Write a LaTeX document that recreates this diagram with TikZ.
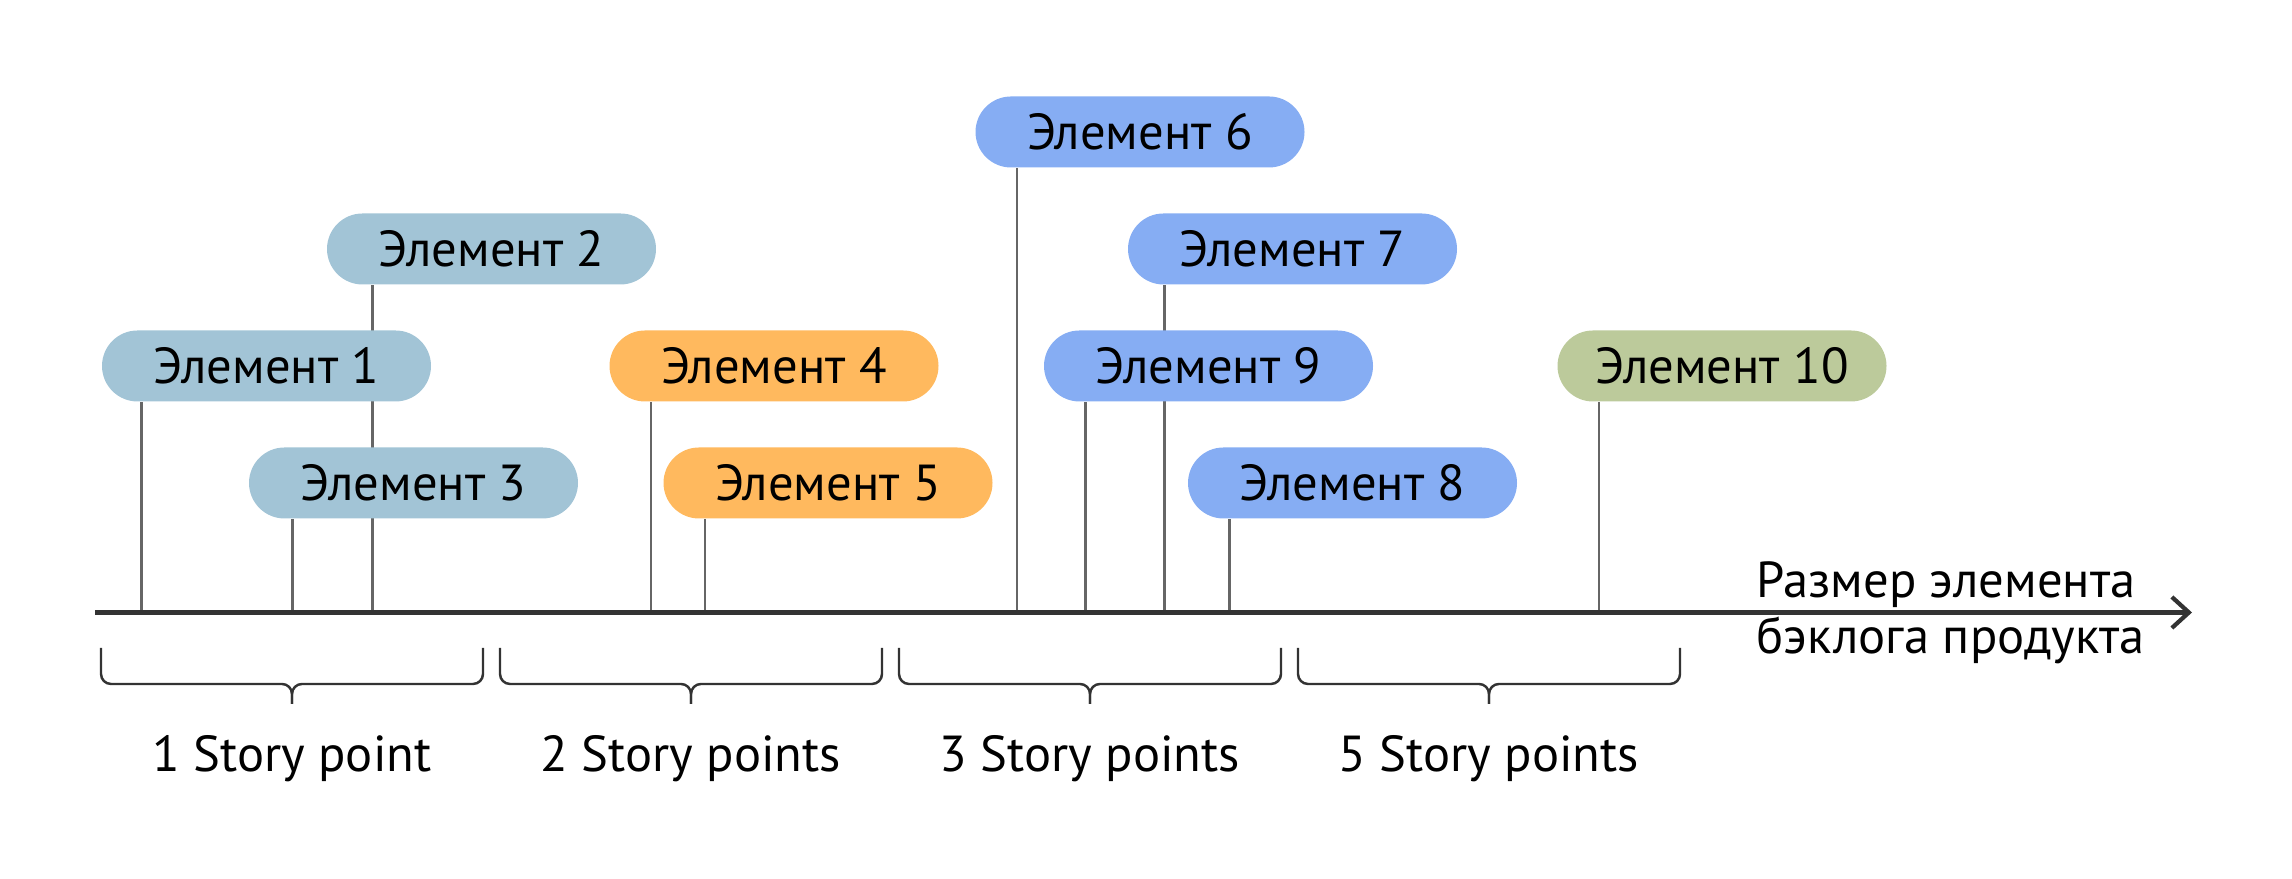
\documentclass[tikz,border=0pt]{standalone}
\usepackage{fontspec}
\setmainfont{PT Sans}
\usetikzlibrary{
  positioning, arrows.meta, backgrounds
}

\definecolor{elgray}{HTML}{A2C4D6}
\definecolor{elorange}{HTML}{FFB95E}
\definecolor{elblue}{HTML}{86ADF3}
\definecolor{elgreen}{HTML}{BCCA9B}
\definecolor{axisgray}{HTML}{333333}
\definecolor{stemgray}{HTML}{666666}

\begin{document}
\begin{tikzpicture}[x=1mm,y=1mm,node distance=11.7mm,on grid,
    lbl/.style={font=\fontsize{14.4}{15.9}\selectfont},
    pill/.style={lbl,rounded corners=3.55mm,minimum width=32.9mm,minimum height=7.1mm,inner sep=0pt},
    stem/.style={stemgray,line width=0.7pt},
    brk/.style={axisgray,line width=0.7pt,rounded corners=1mm}]
    \useasboundingbox (0,0) rectangle (229.2,87.9);
    \node[pill,fill=elgray] (e1) at (26.65,51.3) {Элемент 1};
    \node[pill,fill=elgray] (e2) [above=of e1,xshift=22.5mm] {Элемент 2};
    \node[pill,fill=elgray] (e3) [below=of e1,xshift=14.7mm] {Элемент 3};
    \node[pill,fill=elorange] (e4) [right=50.75mm of e1] {Элемент 4};
    \node[pill,fill=elorange] (e5) [below=of e4,xshift=5.4mm] {Элемент 5};
    \node[pill,fill=elblue] (e9) [right=43.45mm of e4] {Элемент 9};
    \node[pill,fill=elblue] (e7) [above=of e9,xshift=8.4mm] {Элемент 7};
    \node[pill,fill=elblue] (e6) [above=of e7,xshift=-15.25mm] {Элемент 6};
    \node[pill,fill=elblue] (e8) [below=of e9,xshift=14.4mm] {Элемент 8};
    \node[pill,fill=elgreen] (e10) [right=51.35mm of e9] {Элемент 10};
    \coordinate (ax0) at (9.5,26.65);
    \coordinate (ax1) at (219.2,26.65);
    \draw[axisgray,line width=1.2pt,-{Straight Barb[length=1.7mm,width=3.1mm]}] (ax0) -- (ax1);
    \node[lbl,anchor=west,align=left,inner sep=0pt] (axlabel) at (175.6,26.6) {Размер элемента\\бэклога продукта};
    \begin{scope}[on background layer]
      \foreach \e/\dx in {e1/4.0,e2/4.6,e3/4.4,e4/4.2,e5/4.2,e6/4.2,e7/3.7,e8/4.2,e9/4.2,e10/4.2}
        \draw[stem] ([xshift=\dx mm]\e.south west) -- ([xshift=\dx mm]\e.south west |- ax0);
    \end{scope}
    \foreach \i/\txt in {0/1 Story point,1/2 Story points,2/3 Story points,3/5 Story points}{
      \pgfmathsetmacro\xa{10.1+39.9*\i}
      \pgfmathsetmacro\xb{\xa+38.2}
      \pgfmathsetmacro\xc{\xa+19.1}
      \draw[brk] (\xa,23.1) |- (\xc,19.5) -- (\xc,17.5);
      \draw[brk] (\xb,23.1) |- (\xc,19.5) -- (\xc,17.5);
      \node[lbl,anchor=base] (sp\i) at (\xc,10.73) {\txt};
    }
\end{tikzpicture}
\end{document}
